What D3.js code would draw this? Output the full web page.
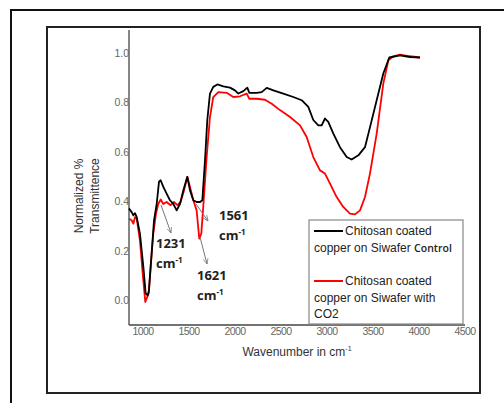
<!DOCTYPE html>
<html>
<head>
<meta charset="utf-8">
<script src="https://cdn.jsdelivr.net/npm/d3@7"></script>
<style>
  body { margin: 0; background: #fff; }
  svg { display: block; }
</style>
</head>
<body>
<div id="chart"></div>
<script>
// Wavenumbers (cm-1) and normalized transmittance
const controlWn = [848, 877, 895, 913, 932, 967, 1004, 1029, 1051, 1065, 1094, 1120, 1149, 1174, 1192, 1221, 1257, 1293, 1330, 1366, 1402, 1438, 1482, 1511, 1547, 1583, 1620, 1645, 1674, 1699, 1728, 1764, 1808, 1873, 1946, 2000, 2036, 2091, 2134, 2156, 2236, 2290, 2345, 2417, 2525, 2634, 2725, 2797, 2851, 2906, 2942, 2978, 3014, 3069, 3141, 3214, 3268, 3341, 3413, 3467, 3540, 3612, 3677, 3793, 3902, 4011];
const controlT = [0.372, 0.357, 0.344, 0.353, 0.337, 0.27, 0.135, 0.028, 0.02, 0.04, 0.19, 0.324, 0.39, 0.48, 0.486, 0.459, 0.432, 0.405, 0.39, 0.364, 0.39, 0.445, 0.50, 0.445, 0.405, 0.398, 0.398, 0.405, 0.567, 0.73, 0.837, 0.864, 0.874, 0.866, 0.861, 0.85, 0.837, 0.847, 0.861, 0.84, 0.84, 0.843, 0.86, 0.85, 0.837, 0.823, 0.81, 0.783, 0.73, 0.708, 0.708, 0.736, 0.722, 0.675, 0.62, 0.58, 0.57, 0.587, 0.62, 0.70, 0.81, 0.918, 0.983, 0.992, 0.985, 0.983];

const co2Wn = [848, 877, 895, 913, 932, 967, 997, 1025, 1040, 1062, 1083, 1112, 1141, 1166, 1192, 1221, 1257, 1300, 1337, 1373, 1409, 1446, 1482, 1511, 1547, 1583, 1612, 1634, 1655, 1692, 1728, 1764, 1819, 1909, 1982, 2054, 2127, 2156, 2236, 2326, 2399, 2489, 2598, 2707, 2779, 2851, 2924, 2978, 3033, 3105, 3177, 3250, 3304, 3359, 3413, 3467, 3540, 3612, 3667, 3721, 3793, 3902, 4011];
const co2T = [0.33, 0.324, 0.31, 0.337, 0.33, 0.243, 0.108, -0.007, 0.008, 0.028, 0.135, 0.27, 0.35, 0.39, 0.408, 0.39, 0.398, 0.385, 0.398, 0.385, 0.398, 0.445, 0.50, 0.459, 0.405, 0.364, 0.25, 0.27, 0.378, 0.58, 0.742, 0.823, 0.843, 0.84, 0.823, 0.826, 0.837, 0.816, 0.816, 0.812, 0.796, 0.77, 0.742, 0.708, 0.661, 0.58, 0.526, 0.513, 0.472, 0.418, 0.378, 0.351, 0.348, 0.364, 0.418, 0.513, 0.675, 0.877, 0.972, 0.988, 0.995, 0.988, 0.983];

const xTicks = [1000, 1500, 2000, 2500, 3000, 3500, 4000, 4500];
const yTicks = [0.0, 0.2, 0.4, 0.6, 0.8, 1.0];

const seriesNames = ['Chitosan coated copper on Siwafer Control', 'Chitosan coated copper on Siwafer with CO2'];
const seriesColors = ['#000000', '#ff0000'];

// peak labels: wavenumber, label position, arrow tip
const peakLabels = [
    { wn: 1231, from: [161, 205], to: [171, 233], tx: 156, ty: 243 },
    { wn: 1621, from: [200, 237], to: [207, 264], tx: 197, ty: 275 },
    { wn: 1561, from: [196, 204], to: [208, 221], tx: 219, ty: 215 }
];

const width = 504, height = 403;

const svg = d3.select('#chart').append('svg')
    .attr('width', width)
    .attr('height', height);

svg.append('defs').append('marker')
    .attr('id', 'arr')
    .attr('viewBox', '0 0 10 10')
    .attr('refX', 9).attr('refY', 5)
    .attr('markerWidth', 6).attr('markerHeight', 6)
    .attr('orient', 'auto')
    .append('path')
    .attr('d', 'M0,1 L9,5 L0,9')
    .attr('fill', 'none')
    .attr('stroke', '#777')
    .attr('stroke-width', 1.2);

// outer + inner frames
svg.append('rect')
    .attr('x', 11).attr('y', 10).attr('width', 500).attr('height', 400)
    .attr('fill', 'none').attr('stroke', '#111').attr('stroke-width', 2);
svg.append('rect')
    .attr('x', 47).attr('y', 27).attr('width', 433).attr('height', 366)
    .attr('fill', 'none').attr('stroke', '#222').attr('stroke-width', 2);

const x = d3.scaleLinear().domain([848, 4500]).range([129, 465]);
const y = d3.scaleLinear().domain([-0.1, 1.1]).range([325, 28.6]);

// axes
svg.append('line')
    .attr('x1', 129).attr('x2', 129).attr('y1', 30).attr('y2', 325)
    .attr('stroke', '#444').attr('stroke-width', 1.3);
svg.append('line')
    .attr('x1', 129).attr('x2', 465).attr('y1', 325).attr('y2', 325)
    .attr('stroke', '#444').attr('stroke-width', 1.3);

svg.selectAll('.ytick')
    .data(yTicks)
    .enter()
    .append('text')
    .attr('class', 'ytick')
    .attr('x', 129)
    .attr('y', d => y(d))
    .attr('dy', '0.35em')
    .attr('text-anchor', 'end')
    .attr('font-family', 'Liberation Sans, Arial, sans-serif')
    .attr('font-size', 10.5)
    .attr('fill', '#666')
    .text(d => d.toFixed(1));

svg.selectAll('.xtick')
    .data(xTicks)
    .enter()
    .append('text')
    .attr('class', 'xtick')
    .attr('x', d => x(d))
    .attr('y', 331)
    .attr('dy', '0.35em')
    .attr('text-anchor', 'middle')
    .attr('font-family', 'Liberation Sans, Arial, sans-serif')
    .attr('font-size', 10.5)
    .attr('letter-spacing', -0.6)
    .attr('fill', '#666')
    .text(d => d);

// axis titles
const xt = svg.append('text')
    .attr('x', 297).attr('y', 356)
    .attr('text-anchor', 'middle')
    .attr('font-family', 'Liberation Sans, Arial, sans-serif')
    .attr('font-size', 12)
    .attr('fill', '#333')
    .text('Wavenumber in cm');
xt.append('tspan').attr('dy', -5).attr('font-size', 7).text('-1');

const yt = svg.append('text')
    .attr('transform', 'translate(86,196) rotate(-90)')
    .attr('text-anchor', 'middle')
    .attr('font-family', 'Liberation Sans, Arial, sans-serif')
    .attr('font-size', 12)
    .attr('fill', '#333');
yt.append('tspan').attr('x', 0).attr('dy', -3).text('Normalized %');
yt.append('tspan').attr('x', 0).attr('dy', 16).text('Transmittence');

// spectra
const line = d3.line()
    .x(d => x(d[0]))
    .y(d => y(d[1]));

const series = [
    d3.zip(controlWn, controlT),
    d3.zip(co2Wn, co2T)
];

// red drawn first so the black sits on top like the original
[1, 0].forEach(i => {
    svg.append('path')
        .datum(series[i])
        .attr('fill', 'none')
        .attr('stroke', seriesColors[i])
        .attr('stroke-width', 1.8)
        .attr('stroke-linejoin', 'round')
        .attr('d', line);
});

// peak annotations
peakLabels.forEach(p => {
    svg.append('line')
        .attr('x1', p.from[0]).attr('y1', p.from[1])
        .attr('x2', p.to[0]).attr('y2', p.to[1])
        .attr('stroke', '#777').attr('stroke-width', 1)
        .attr('marker-end', 'url(#arr)');
    const t = svg.append('text')
        .attr('font-family', 'Open Sans, sans-serif')
        .attr('font-weight', 'bold')
        .attr('font-size', 13)
        .attr('fill', '#222');
    t.append('tspan').attr('x', p.tx).attr('y', p.ty + 5).text(p.wn);
    t.append('tspan').attr('x', p.tx).attr('y', p.ty + 25).text('cm');
    t.append('tspan').attr('dy', -5).attr('font-size', 8).text('-1');
});

// legend
const lg = svg.append('g');
lg.append('rect')
    .attr('x', 309).attr('y', 220).attr('width', 154).attr('height', 104)
    .attr('fill', '#fff').attr('stroke', '#888').attr('stroke-width', 1.2);

const legendRows = [
    { c: 0, lines: ['Chitosan coated', 'copper on Siwafer '], tail: 'Control', y0: 231 },
    { c: 1, lines: ['Chitosan coated', 'copper on Siwafer with', 'CO2'], tail: null, y0: 281 }
];
legendRows.forEach(r => {
    lg.append('line')
        .attr('x1', 314).attr('x2', 343)
        .attr('y1', r.y0).attr('y2', r.y0)
        .attr('stroke', seriesColors[r.c]).attr('stroke-width', 2);
    r.lines.forEach((s, k) => {
        const t = lg.append('text')
            .attr('x', k === 0 ? 345 : 314)
            .attr('y', r.y0 + k * 16.5)
            .attr('dy', '0.35em')
            .attr('font-family', 'Liberation Sans, Arial, sans-serif')
            .attr('font-size', 12)
            .attr('fill', '#222')
            .text(s);
        if (k === 1 && r.tail) {
            t.append('tspan')
                .attr('font-family', 'Open Sans, sans-serif')
                .attr('font-size', 10.5)
                .attr('font-weight', 600)
                .text(r.tail);
        }
    });
});
</script>
</body>
</html>
